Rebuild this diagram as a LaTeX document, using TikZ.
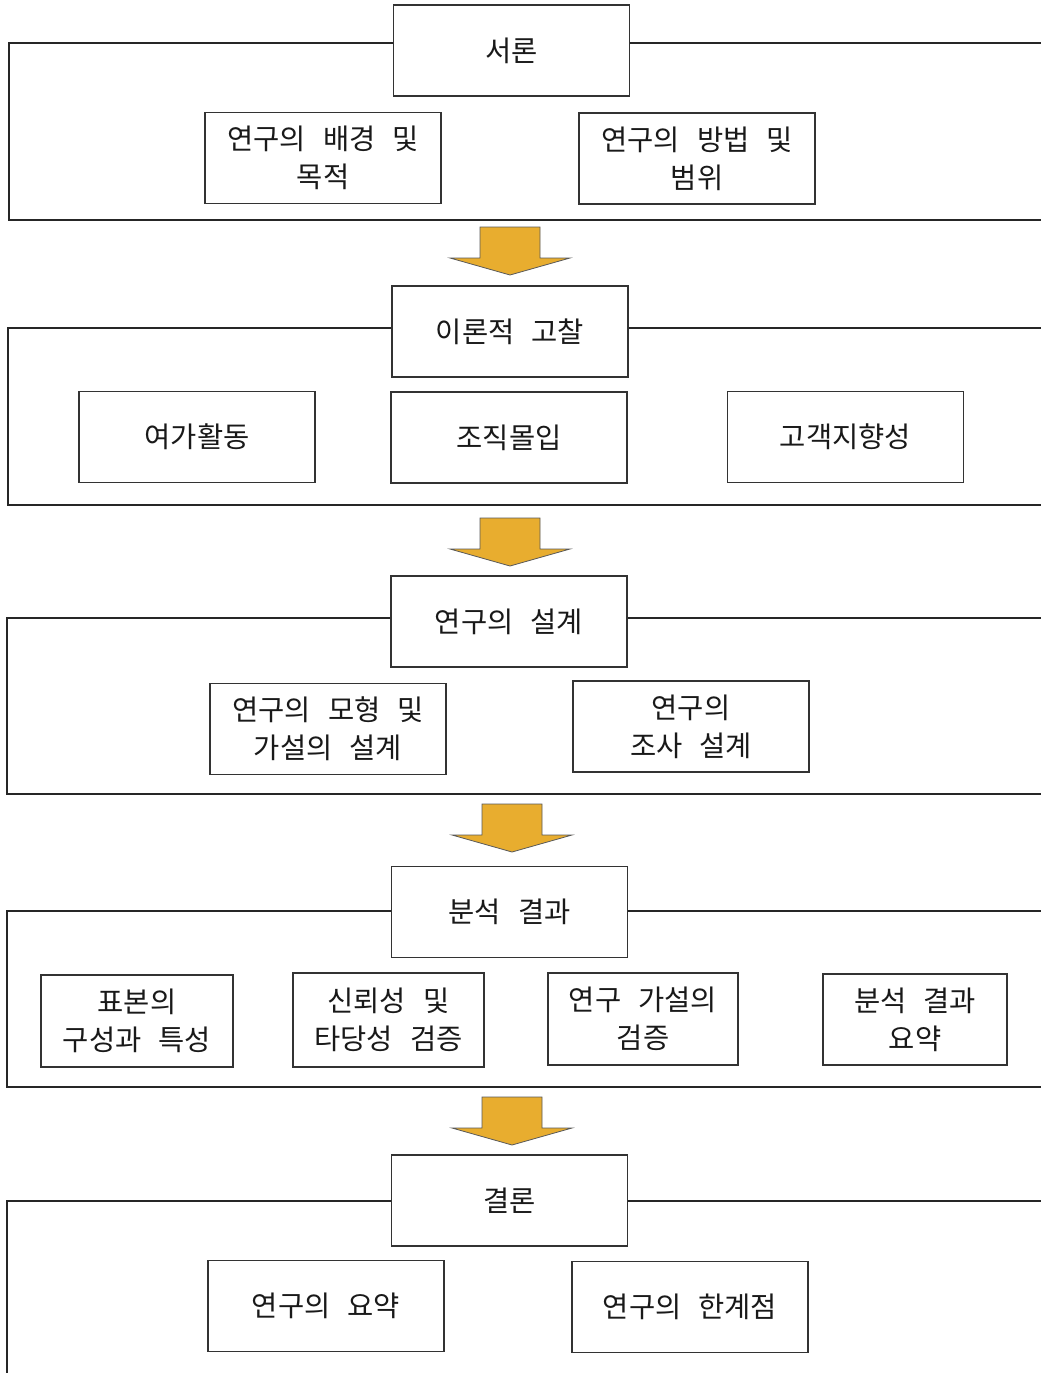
\documentclass[tikz,border=0pt]{standalone}
\usepackage{fontspec}
\setmainfont{Noto Sans CJK KR}
\definecolor{arrowfill}{HTML}{E8AD2F}
\newcommand\gp{\hspace{0.6em}}
\begin{document}
\begin{tikzpicture}[x=1pt,y=-1pt,
  box/.style={draw=black!80,line width=1.1pt,fill=white,inner sep=0pt,align=center,
    minimum width=236pt,minimum height=91pt,text=black!90,
    font=\fontsize{28.5}{38}\selectfont},
  frame/.style={draw=black!85,line width=1.1pt},
  flow/.style={draw=black!65,line width=0.8pt,fill=arrowfill,line join=miter}]
\useasboundingbox (0,0) rectangle (1041,1373);

% ---------- section 1
\node[box] (s1) at (511.5,50.5) {서론};
\node[box] (a1) at (323,158) {연구의\gp 배경\gp 및\\목적};
\node[box] (b1) at (697,158.5) {연구의\gp 방법\gp 및\\범위};
\coordinate (f1tl) at (9,43); \coordinate (f1bl) at (9,220);
\coordinate (f1tr) at (1041,43); \coordinate (f1br) at (1041,220);
\draw[frame] (s1.west |- f1tl) -- (f1tl) -- (f1bl) -- (f1br);
\draw[frame] (s1.east |- f1tr) -- (f1tr);

% ---------- arrow 1
\coordinate (ar1) at (510,227);
\draw[flow] (ar1) ++(-30,0) -- ++(60,0) -- ++(0,31) -- ++(30,0) -- ++(-60,17) -- ++(-60,-17) -- ++(30,0) -- cycle;

% ---------- section 2
\node[box] (s2) at (510,331.5) {이론적\gp 고찰};
\node[box] (a2) at (197,437) {여가활동};
\node[box] (b2) at (509,437.5) {조직몰입};
\node[box] (c2) at (845.5,437) {고객지향성};
\coordinate (f2tl) at (8,328); \coordinate (f2bl) at (8,505);
\coordinate (f2tr) at (1041,328); \coordinate (f2br) at (1041,505);
\draw[frame] (s2.west |- f2tl) -- (f2tl) -- (f2bl) -- (f2br);
\draw[frame] (s2.east |- f2tr) -- (f2tr);

% ---------- arrow 2
\coordinate (ar2) at (510,518);
\draw[flow] (ar2) ++(-30,0) -- ++(60,0) -- ++(0,31) -- ++(30,0) -- ++(-60,17) -- ++(-60,-17) -- ++(30,0) -- cycle;

% ---------- section 3
\node[box] (s3) at (509,621.5) {연구의\gp 설계};
\node[box] (a3) at (328,729) {연구의\gp 모형\gp 및\\가설의\gp 설계};
\node[box] (b3) at (691,726.5) {연구의\\조사\gp 설계};
\coordinate (f3tl) at (7,618); \coordinate (f3bl) at (7,794);
\coordinate (f3tr) at (1041,618); \coordinate (f3br) at (1041,794);
\draw[frame] (s3.west |- f3tl) -- (f3tl) -- (f3bl) -- (f3br);
\draw[frame] (s3.east |- f3tr) -- (f3tr);

% ---------- arrow 3
\coordinate (ar3) at (512,804);
\draw[flow] (ar3) ++(-30,0) -- ++(60,0) -- ++(0,31) -- ++(30,0) -- ++(-60,17) -- ++(-60,-17) -- ++(30,0) -- cycle;

% ---------- section 4
\node[box] (s4) at (509.5,912) {분석\gp 결과};
\node[box,minimum width=192pt,minimum height=92pt] (a4) at (137,1021) {표본의\\구성과\gp 특성};
\node[box,minimum width=191pt,minimum height=94pt] (b4) at (388.5,1020) {신뢰성\gp 및\\타당성\gp 검증};
\node[box,minimum width=190pt,minimum height=92pt] (c4) at (643,1019) {연구\gp 가설의\\검증};
\node[box,minimum width=184pt,minimum height=91pt] (d4) at (915,1019.5) {분석\gp 결과\\요약};
\coordinate (f4tl) at (7,911); \coordinate (f4bl) at (7,1087);
\coordinate (f4tr) at (1041,911); \coordinate (f4br) at (1041,1087);
\draw[frame] (s4.west |- f4tl) -- (f4tl) -- (f4bl) -- (f4br);
\draw[frame] (s4.east |- f4tr) -- (f4tr);

% ---------- arrow 4
\coordinate (ar4) at (512,1097);
\draw[flow] (ar4) ++(-30,0) -- ++(60,0) -- ++(0,31) -- ++(30,0) -- ++(-60,17) -- ++(-60,-17) -- ++(30,0) -- cycle;

% ---------- section 5
\node[box] (s5) at (509.5,1200.5) {결론};
\node[box] (a5) at (326,1306) {연구의\gp 요약};
\node[box] (b5) at (690,1307) {연구의\gp 한계점};
\coordinate (f5tl) at (7,1201); \coordinate (f5bl) at (7,1373);
\coordinate (f5tr) at (1041,1201);
\draw[frame] (s5.west |- f5tl) -- (f5tl) -- (f5bl);
\draw[frame] (s5.east |- f5tr) -- (f5tr);
\end{tikzpicture}
\end{document}
